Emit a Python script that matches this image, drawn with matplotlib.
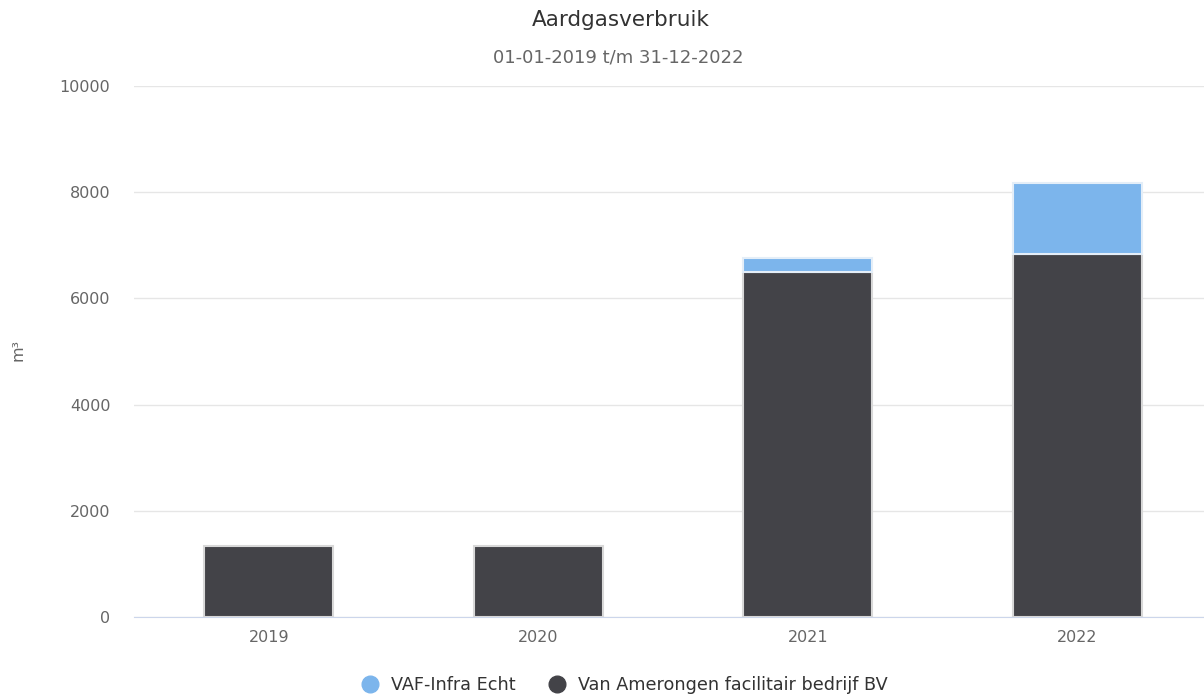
import numpy as np
import matplotlib.pyplot as plt
from matplotlib.lines import Line2D

plt.rcParams['font.family'] = ['DejaVu Sans']

years = ['2019', '2020', '2021', '2022']
van_amerongen = [1335, 1335, 6500, 6840]
vaf_infra = [0, 0, 265, 1340]

fig = plt.figure(figsize=(12.04, 6.97), dpi=100)
ax = fig.add_axes([134 / 1204, 1 - 617 / 697, 1078 / 1204, 531 / 697])

x = np.arange(len(years))
ax.bar(x, van_amerongen, width=0.48, color='#434348', edgecolor='#d8d8d8', linewidth=1.5, zorder=3)
ax.bar(x, vaf_infra, width=0.48, bottom=van_amerongen, color='#7cb5ec',
       edgecolor=['none' if v == 0 else '#e4eef8' for v in vaf_infra], linewidth=1.5, zorder=3)

ax.set_xlim(-0.5, len(years) - 0.5)
ax.set_ylim(0, 10000)
ax.set_yticks([0, 2000, 4000, 6000, 8000, 10000])
ax.set_xticks(x)
ax.set_xticklabels(years)
ax.grid(axis='y', color='#e6e6e6', linewidth=1, zorder=0)
for s in ['top', 'right', 'left']:
    ax.spines[s].set_visible(False)
ax.spines['bottom'].set_color('#ccd6eb')
ax.tick_params(axis='y', length=0, pad=17, labelsize=11.5, labelcolor='#666666')
ax.tick_params(axis='x', length=0, pad=9, labelsize=11.5, labelcolor='#666666')

fig.text(621 / 1204, 1 - 20 / 697, 'Aardgasverbruik', ha='center', va='center', fontsize=15.5, color='#333333')
fig.text(618 / 1204, 1 - 57 / 697, '01-01-2019 t/m 31-12-2022', ha='center', va='center', fontsize=13, color='#666666')
fig.text(18 / 1204, 1 - 350 / 697, 'm³', rotation=90, ha='center', va='center', fontsize=11.5, color='#666666')

handles = [
    Line2D([], [], marker='o', linestyle='none', markersize=12, color='#7cb5ec'),
    Line2D([], [], marker='o', linestyle='none', markersize=12, color='#434348'),
]
fig.legend(handles, ['VAF-Infra Echt', 'Van Amerongen facilitair bedrijf BV'], loc='center',
           bbox_to_anchor=(620 / 1204, 1 - 685 / 697), ncol=2, frameon=False, fontsize=12.7,
           handletextpad=0.2, columnspacing=1.3, labelcolor='#333333')

fig.savefig('out.png', dpi=100)
